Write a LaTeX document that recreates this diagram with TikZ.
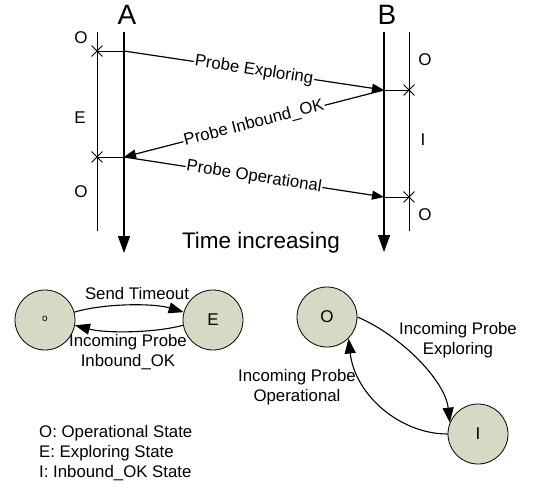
\documentclass[tikz,border=0pt]{standalone}
\usepackage{fontspec}
\setmainfont{Liberation Sans}
\usetikzlibrary{arrows.meta,shapes.misc}

\definecolor{statefill}{RGB}{214,217,196}

\tikzset{
  timeline/.style={line width=1.5pt,-{Triangle[length=17pt,width=12pt]}},
  stateline/.style={line width=1pt},
  msg/.style={line width=1.2pt,-{Triangle[length=12pt,width=9pt]}},
  msglbl/.style={sloped,fill=white,inner sep=1pt,font=\fontsize{16.8}{19}\selectfont},
  xmark/.style={cross out,draw,line width=0.9pt,minimum size=10pt,inner sep=0pt},
  tick/.style={line width=1pt},
  side/.style={font=\fontsize{17}{20}\selectfont},
  head/.style={font=\fontsize{28}{32}\selectfont},
  state/.style={circle,draw,line width=0.8pt,fill=statefill,minimum size=60pt,inner sep=0pt,font=\fontsize{17}{20}\selectfont},
  trans/.style={line width=1.1pt,-{Triangle[length=15pt,width=11pt]}},
  tlbl/.style={align=center,font=\fontsize{16.8}{19.5}\selectfont},
  legend/.style={anchor=west,inner sep=0pt,font=\fontsize{16.8}{19}\selectfont}
}

\begin{document}
\begin{tikzpicture}[x=1pt,y=-1pt]
\useasboundingbox[fill=white] (0,0) rectangle (535,490);

% ---- time lines of the two nodes ----
\coordinate (Atop) at (124,32);
\coordinate (Abot) at (124,253);
\coordinate (Btop) at (384,32);
\coordinate (Bbot) at (384,252);
\coordinate (SAtop) at (97,32);
\coordinate (SAbot) at (97,231);
\coordinate (SBtop) at (409,32);
\coordinate (SBbot) at (409,231);

\node[head] (labA) at (127,15) {A};
\node[head] (labB) at (387,15) {B};

\draw[timeline] (Atop) -- (Abot);
\draw[timeline] (Btop) -- (Bbot);
\draw[stateline] (SAtop) -- (SAbot);
\draw[stateline] (SBtop) -- (SBbot);

% ---- events on the time lines ----
\coordinate (a1) at (124,51);
\coordinate (a2) at (124,157);
\coordinate (b1) at (384,90);
\coordinate (b2) at (384,197);
\node[xmark] (xa1) at (97,51) {};
\node[xmark] (xa2) at (97,157) {};
\node[xmark] (xb1) at (409,90) {};
\node[xmark] (xb2) at (409,197) {};
\draw[tick] (xa1.center) -- (a1);
\draw[tick] (xa2.center) -- (a2);
\draw[tick] (b1) -- (xb1.center);
\draw[tick] (b2) -- (xb2.center);

% ---- state letters beside the time lines ----
\node[side] (sa1) at (81,38) {O};
\node[side] (sa2) at (80,118) {E};
\node[side] (sa3) at (81,192) {O};
\node[side] (sb1) at (425,60) {O};
\node[side] (sb2) at (423,140) {I};
\node[side] (sb3) at (425,215) {O};

% ---- probe messages ----
\draw[msg] (a1) -- node[msglbl] {Probe Exploring} (b1);
\draw[msg] (b1) -- node[msglbl] {Probe Inbound\_OK} (a2);
\draw[msg] (a2) -- node[msglbl] {Probe Operational} (b2);

\node[font=\fontsize{22.5}{26}\selectfont] (time) at (261,243) {Time increasing};

% ---- state machine of node A ----
\node[state] (O1) at (45,320) {\raisebox{3pt}{\fontsize{10}{12}\selectfont o}};
\node[state] (E1) at (213,320) {E};
\draw[trans] (O1.15) .. controls +(30,-9) and +(-30,-9) .. (E1.165);
\draw[trans] (E1.190) .. controls +(-30,8) and +(30,8) .. (O1.-10);
\node[tlbl] (st) at (137,293) {Send Timeout};
\node[tlbl] (ip) at (128,352) {Incoming Probe\\Inbound\_OK};

% ---- state machine of node B ----
\node[state] (O2) at (327,317) {O};
\node[state] (I2) at (478,434) {I};
\draw[trans] (O2.0) .. controls (400,335) and (445,380) .. (I2.158);
\draw[trans] (I2.180) .. controls (400,434) and (355,395) .. (O2.-45);
\node[tlbl] (ipe) at (458,340) {Incoming Probe\\Exploring};
\node[tlbl] (ipo) at (297,387) {Incoming Probe\\Operational};

% ---- legend ----
\node[legend] (lg1) at (39,433) {O: Operational State};
\node[legend] (lg2) at (39,453) {E: Exploring State};
\node[legend] (lg3) at (39,473) {I: Inbound\_OK State};
\end{tikzpicture}
\end{document}
